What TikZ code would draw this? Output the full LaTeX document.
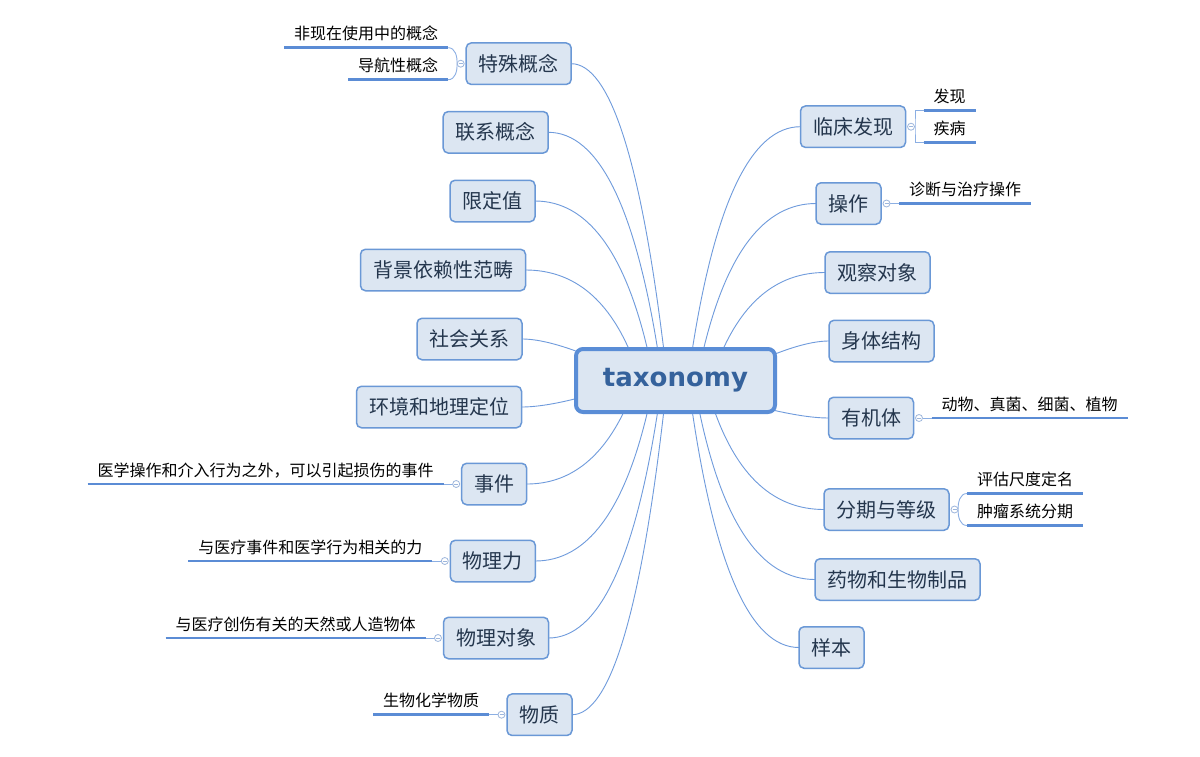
\documentclass[tikz,border=0pt]{standalone}
\usepackage{fontspec}
\setmainfont{Noto Sans CJK SC}
\newfontfamily\taxfont{DejaVu Sans}
\usetikzlibrary{calc}
\pgfdeclarelayer{paper}
\pgfdeclarelayer{bg}
\pgfsetlayers{paper,bg,main}
\definecolor{nodefill}{HTML}{DCE6F2}
\definecolor{nodeedge}{HTML}{6A98D6}
\definecolor{centeredge}{HTML}{5A8DD6}
\definecolor{linkcol}{HTML}{6F9BDC}
\definecolor{leafcol}{HTML}{5B8CD5}
\definecolor{togcol}{HTML}{9DB6DC}
\definecolor{topictext}{HTML}{24364D}
\definecolor{taxtext}{HTML}{35629C}
\newcommand\mmlink[3]{\draw[link] let \p1=(#1), \p2=(#2) in (\p1) .. controls ($(\p1)!0.6667!({\x1+(#3)},\y2)$) and ($(\p2)!0.6667!({\x1+(#3)},\y2)$) .. (\p2);}
\tikzset{
  central/.style={draw=centeredge, line width=4pt, fill=nodefill, rounded corners=7pt,
    minimum width=199pt, minimum height=63pt, inner sep=0pt, outer sep=0pt, text=taxtext,
    font={\taxfont\bfseries\fontsize{26}{30}\selectfont}},
  topic/.style={draw=nodeedge, line width=1.5pt, fill=nodefill, rounded corners=5pt,
    minimum height=41.5pt, inner xsep=12.5pt, inner ysep=0pt, outer sep=0pt, text=topictext,
    font={\fontsize{20}{24}\selectfont}},
  leaf/.style={inner xsep=10pt, inner ysep=0pt, text height=14pt, text depth=8pt,
    outer sep=0pt, text=black, font={\fontsize{16}{19}\selectfont}},
  tog/.style={circle, draw=togcol, fill=white, line width=0.8pt, minimum size=7pt,
    inner sep=0pt, outer sep=0pt,
    path picture={\draw[togcol, line width=0.7pt] ($(path picture bounding box.center)+(-2pt,0pt)$) -- ($(path picture bounding box.center)+(2pt,0pt)$);}},
  leafline/.style={draw=leafcol, line width=2.5pt},
  link/.style={draw=linkcol, line width=0.9pt},
  thinlink/.style={draw=linkcol!80, line width=0.9pt}
}
\begin{document}
\begin{tikzpicture}[x=1pt,y=-1pt]
\useasboundingbox (0,0) rectangle (1200,756);
\begin{pgfonlayer}{paper}
\fill[white] (0,0) rectangle (1200,756);
\end{pgfonlayer}
% central
\node[central] (tax) at (675.5,380.5) {taxonomy};
% left topics
\node[topic] (sp) at (518.7,63.7) {特殊概念};
\node[topic] (lx) at (495.7,132.3) {联系概念};
\node[topic] (xd) at (492.5,201) {限定值};
\node[topic] (bj) at (443,270) {背景依赖性范畴};
\node[topic] (sh) at (469.5,339) {社会关系};
\node[topic] (hj) at (439,407) {环境和地理定位};
\node[topic] (sj) at (494.2,484) {事件};
\node[topic] (wl) at (492.8,561) {物理力};
\node[topic] (wd) at (496,638) {物理对象};
\node[topic] (wz) at (539.5,714.7) {物质};
% right topics
\node[topic] (lc) at (853,126.7) {临床发现};
\node[topic] (cz) at (848.5,203.5) {操作};
\node[topic] (gc) at (877.5,272.5) {观察对象};
\node[topic] (st) at (881.5,341) {身体结构};
\node[topic] (yj) at (871,418) {有机体};
\node[topic] (fq) at (886.5,509.5) {分期与等级};
\node[topic] (yw) at (897.5,579.5) {药物和生物制品};
\node[topic] (yb) at (831.5,647.5) {样本};
% toggles and leaves
\node[tog] (spc) at ($(sp.west)+(-5.5,0)$) {};
\node[leaf, anchor=south east] (sp1) at ($(spc.center)+(-12.5,-16)$) {非现在使用中的概念};
\node[leaf, anchor=south east] (sp2) at ($(spc.center)+(-12.5,16)$) {导航性概念};
\node[tog] (lcc) at ($(lc.east)+(5.5,0)$) {};
\node[leaf, anchor=south west] (lc1) at ($(lcc.center)+(12.5,-16)$) {发现};
\node[leaf, anchor=south west] (lc2) at ($(lcc.center)+(12.5,16)$) {疾病};
\node[tog] (czc) at ($(cz.east)+(5.5,0)$) {};
\node[leaf, anchor=south west] (cz1) at ($(czc.center)+(12.5,0)$) {诊断与治疗操作};
\node[tog] (yjc) at ($(yj.east)+(5.5,0)$) {};
\node[leaf, anchor=south west, minimum width=195pt] (yj1) at ($(yjc.center)+(12.5,0)$) {动物、真菌、细菌、植物};
\node[tog] (fqc) at ($(fq.east)+(5.5,0)$) {};
\node[leaf, anchor=south west] (fq1) at ($(fqc.center)+(12.5,-16)$) {评估尺度定名};
\node[leaf, anchor=south west] (fq2) at ($(fqc.center)+(12.5,16)$) {肿瘤系统分期};
\node[tog] (sjc) at ($(sj.west)+(-5.5,0)$) {};
\node[leaf, anchor=south east] (sj1) at ($(sjc.center)+(-12.5,0)$) {医学操作和介入行为之外，可以引起损伤的事件};
\node[tog] (wlc) at ($(wl.west)+(-5.5,0)$) {};
\node[leaf, anchor=south east] (wl1) at ($(wlc.center)+(-12.5,0)$) {与医疗事件和医学行为相关的力};
\node[tog] (wdc) at ($(wd.west)+(-5.5,0)$) {};
\node[leaf, anchor=south east] (wd1) at ($(wdc.center)+(-12.5,0)$) {与医疗创伤有关的天然或人造物体};
\node[tog] (wzc) at ($(wz.west)+(-5.5,0)$) {};
\node[leaf, anchor=south east] (wz1) at ($(wzc.center)+(-12.5,0)$) {生物化学物质};
\begin{pgfonlayer}{bg}
% links from the central topic
\mmlink{$(tax.center)+(-11.5,-29)$}{sp.east}{-35}
\mmlink{$(tax.center)+(-17.5,-29)$}{lx.east}{-35}
\mmlink{$(tax.center)+(-27.5,-29)$}{xd.east}{-35}
\mmlink{$(tax.center)+(-45.5,-29)$}{bj.east}{-35}
\mmlink{$(tax.center)+(-97,-28.5)$}{sh.east}{-35}
\mmlink{$(tax.center)+(-97,17.5)$}{hj.east}{-35}
\mmlink{$(tax.center)+(-50.5,29)$}{sj.east}{-35}
\mmlink{$(tax.center)+(-27.5,29)$}{wl.east}{-35}
\mmlink{$(tax.center)+(-17.5,29)$}{wd.east}{-35}
\mmlink{$(tax.center)+(-11.5,29)$}{wz.east}{-35}
\mmlink{$(tax.center)+(16.5,-29)$}{lc.west}{35}
\mmlink{$(tax.center)+(27.5,-29)$}{cz.west}{35}
\mmlink{$(tax.center)+(46.5,-29)$}{gc.west}{35}
\mmlink{$(tax.center)+(97,-25.5)$}{st.west}{35}
\mmlink{$(tax.center)+(97,29.5)$}{yj.west}{35}
\mmlink{$(tax.center)+(38.5,29)$}{fq.west}{35}
\mmlink{$(tax.center)+(23.5,29)$}{yw.west}{35}
\mmlink{$(tax.center)+(16.5,29)$}{yb.west}{35}
% leaf connectors
\draw[thinlink] (sp1.south east) to[out=0,in=90] (spc.west);
\draw[thinlink] (sp2.south east) to[out=0,in=-90] (spc.west);
\coordinate (lcb) at ($(lcc.east)+(0.5,0)$);
\draw[thinlink] (lc1.south west) -| (lcb) |- (lc2.south west);
\draw[thinlink] (czc.east) -- (cz1.south west);
\draw[thinlink] (yjc.east) -- (yj1.south west);
\draw[thinlink] (fqc.east) to[out=90,in=180] (fq1.south west);
\draw[thinlink] (fqc.east) to[out=-90,in=180] (fq2.south west);
\draw[thinlink] (sjc.west) -- (sj1.south east);
\draw[thinlink] (wlc.west) -- (wl1.south east);
\draw[thinlink] (wdc.west) -- (wd1.south east);
\draw[thinlink] (wzc.west) -- (wz1.south east);
\end{pgfonlayer}
% leaf underlines
\foreach \l in {sp1,sp2,lc1,lc2,cz1,yj1,fq1,fq2,sj1,wl1,wd1,wz1}
  \draw[leafline] (\l.south west) -- (\l.south east);
\end{tikzpicture}
\end{document}
